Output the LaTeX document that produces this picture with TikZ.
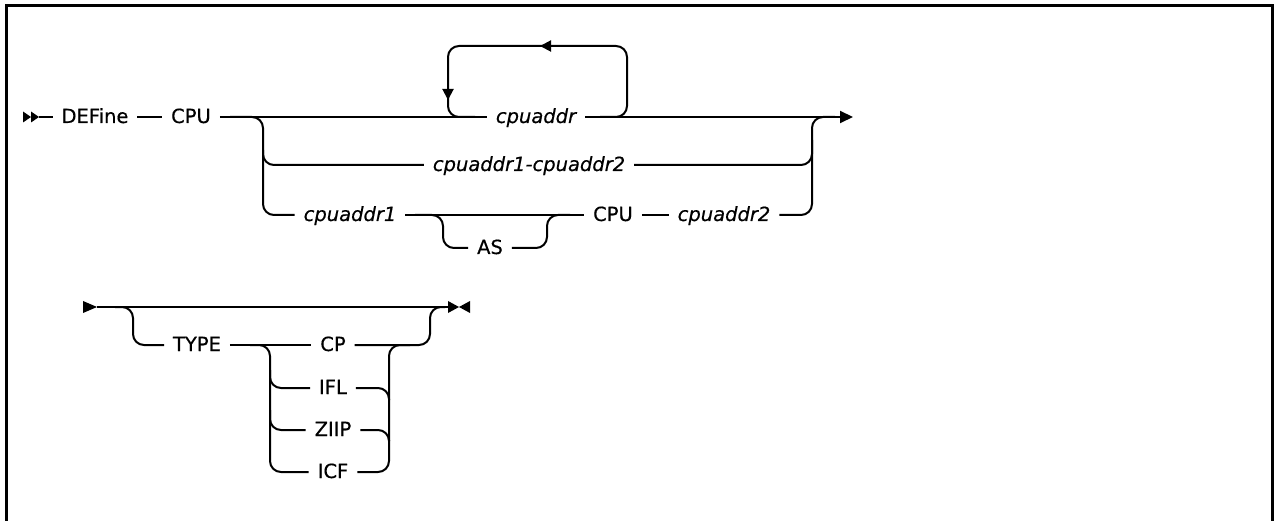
\documentclass[tikz,border=0pt]{standalone}
\usepackage{fontspec}
\setmainfont[FakeBold=0.5]{DejaVu Sans}
\usetikzlibrary{arrows.meta}
\begin{document}
\begin{tikzpicture}[x=1pt,y=-1pt,
  line width=2pt,
  rr/.style={line width=2pt, rounded corners=11pt},
  kw/.style={font=\fontsize{19.5}{20}\selectfont, inner xsep=8pt, inner ysep=0pt, text height=12pt, text depth=0pt},
  var/.style={kw, font=\fontsize{19.5}{20}\selectfont\itshape},
  endtip/.style={-{Triangle[length=13pt,width=12pt]}},
  looptip/.style={-{Triangle[length=11pt,width=11pt]}}]
\useasboundingbox (0,0) rectangle (1274,521);
% frame
\draw[line width=3pt] (6,521) -- (6,6) -- (1272.5,6) -- (1272.5,521);

% ---------- first diagram ----------
\node[kw]  (def)  at (95,117)  {DEFine};
\node[kw]  (cpu)  at (191,117) {CPU};
\node[var] (ca)   at (536,117) {cpuaddr};
\node[var] (car)  at (529,165) {cpuaddr1-cpuaddr2};
\node[var] (caa)  at (350,215) {cpuaddr1};
\node[kw]  (as)   at (490,248) {AS};
\node[kw]  (cpub) at (613,215) {CPU};
\node[var] (cab)  at (724,215) {cpuaddr2};
\coordinate (s1) at (39,117);
\coordinate (e1) at (853,117);

\fill (23,111.5) -- (31,117) -- (23,122.5) -- cycle;
\fill (31,111.5) -- (39,117) -- (31,122.5) -- cycle;
\draw (s1) -- (def);
\draw (def) -- (cpu);
\draw (cpu) -- (ca);
\draw[endtip] (ca) -- (e1);
% repeat loop
\draw[rr] (600,117) -| (627,46) -| (448,117) -- (475,117);
\draw[looptip] (560,46) -- (540,46);
\draw[looptip] (448,80) -- (448,100);
% left branch
\draw[rr] (230,117) -| (263,215) -- (caa);
\draw[rr] (263,150) |- (car);
% right branch
\draw[rr] (car) -| (812,140);
\draw[rr] (cab) -| (812,117) -- (835,117);
% AS optional
\draw (caa) -- (cpub);
\draw[rr] (415,215) -| (443,248) -- (as);
\draw[rr] (as) -| (547,215) -- (570,215);
\draw (cpub) -- (cab);

% ---------- second diagram ----------
\node[kw] (type) at (197,345) {TYPE};
\node[kw] (cp)   at (333,345) {CP};
\node[kw] (ifl)  at (333,388) {IFL};
\node[kw] (ziip) at (333,430) {ZIIP};
\node[kw] (icf)  at (333,472) {ICF};
\coordinate (s2) at (97,307);
\coordinate (e2) at (448,307);

\fill (83,301) -- (97,307) -- (83,313) -- cycle;
\fill (448,301) -- (459,307) -- (448,313) -- cycle;
\fill (470,301) -- (459,307) -- (470,313) -- cycle;
\draw (s2) -- (e2);
\draw[rr] (115,307) -| (133,345) -- (type);
\draw (type) -- (cp);
\draw[rr] (250,345) -| (270,472) -- (icf);
\draw[rr] (270,370) |- (ifl);
\draw[rr] (270,410) |- (ziip);
\draw[rr] (icf) -| (389,345) -- (410,345);
\draw[rr] (ifl) -| (389,400);
\draw[rr] (ziip) -| (389,440);
\draw[rr] (cp) -| (430,307) -- (445,307);
\end{tikzpicture}
\end{document}
